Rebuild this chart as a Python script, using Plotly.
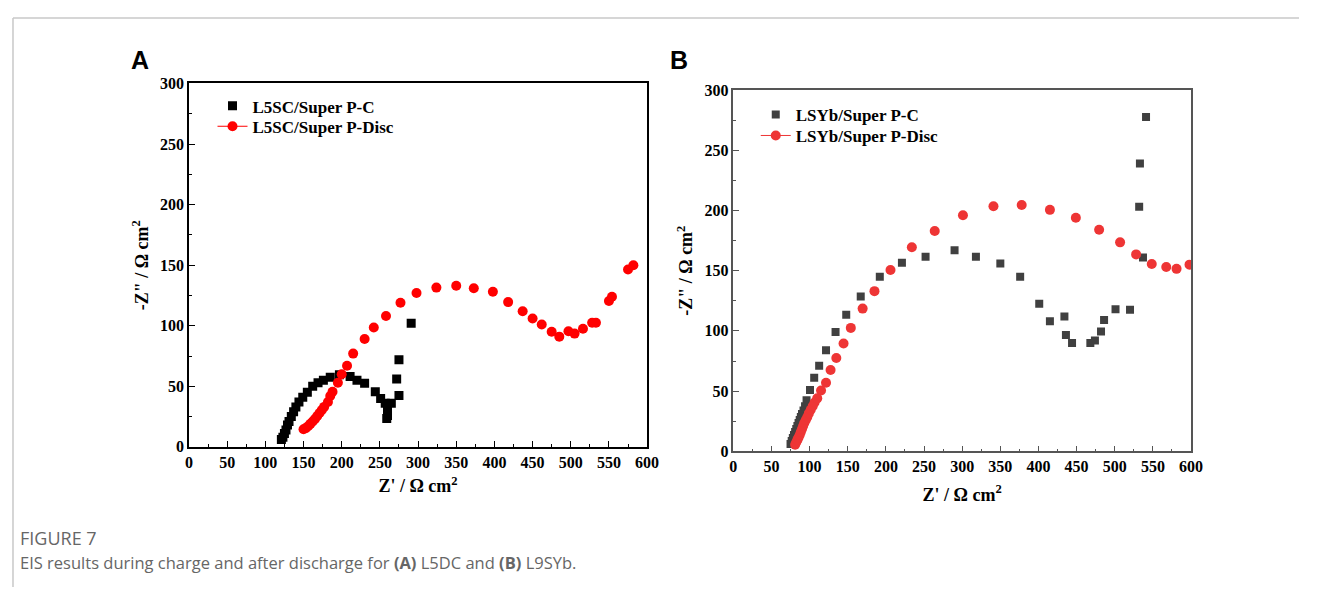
import plotly.graph_objects as go

# ---------------- data ----------------
# Panel A: L5SC / Super P
a_charge_x = [121, 123, 125, 127, 129, 131, 134, 137, 140, 144, 149, 155, 162, 169, 176, 185, 197,
              211, 220, 230, 244, 251, 257, 260, 260, 259, 265, 275, 272, 275, 291]
a_charge_y = [6, 8, 11, 14, 18, 21, 25, 29, 33, 37, 41, 45, 50, 53, 55, 57.5, 59.5,
              58, 55, 52.5, 45.5, 40, 36, 30, 26, 23.5, 36, 42.5, 56, 72, 102]
a_disc_x = [150, 153, 156, 159, 162, 165, 168, 171, 174, 177, 182, 185, 188, 195, 200, 207, 215,
            230, 242, 258, 277, 298, 324, 350, 373, 398, 418, 437, 450, 462, 475, 485, 497, 505,
            516, 528, 533, 550, 554, 575, 582]
a_disc_y = [14.5, 15.5, 17, 19, 21, 23, 25.5, 28, 30.5, 33, 37, 42, 45.5, 53, 60, 67, 77,
            89, 98.5, 108, 119, 127, 131.5, 133, 131, 128, 119.5, 112, 106, 101, 95, 91, 95.5, 93.5,
            97.5, 102.5, 102.5, 120.5, 124, 146.5, 150]

# Panel B: LSYb / Super P
b_charge_x = [75, 76.5, 78, 79.5, 81, 82.5, 84, 85.5, 87, 88.5, 90, 92, 94, 96, 100.5, 106, 112.5,
              121.5, 134, 148, 167, 192, 221, 252, 290, 318, 350, 376, 401, 415, 434, 436, 444,
              468, 474, 482, 486, 501, 520, 537, 532, 533, 541]
b_charge_y = [6, 8.5, 11, 13.5, 16, 18.5, 21, 23.5, 26, 28.5, 31, 34, 37.5, 42.5, 51, 61, 71,
              84, 99, 113.5, 128.5, 145, 156.5, 161.5, 167, 161.5, 156, 145, 122.5, 108, 112, 96.5, 90,
              90, 92, 99.5, 109, 118, 117.5, 161, 203, 239, 277.5]
b_disc_x = [81, 82.5, 84, 85.5, 87, 88.5, 90, 91.5, 93, 95, 97, 99, 101.5, 104, 106.5, 110, 115,
            121.5, 127.5, 135, 144.5, 154, 169.5, 185, 206, 234, 264, 301, 341, 378, 415, 449,
            479.5, 507, 528, 548.5, 567.5, 581, 598]
b_disc_y = [5.5, 7.5, 9.5, 11.5, 13.5, 16, 18.5, 21, 23.5, 26, 28.5, 31.5, 34.5, 37.5, 40.5, 44, 50.5,
            57, 67.5, 77.5, 89.5, 102.5, 118.5, 133, 150.5, 169.5, 183, 196, 203.5, 204.5, 200.5, 194,
            184, 173.5, 163.5, 155.5, 153, 151.5, 155]

names_a = ["L5SC/Super P-C", "L5SC/Super P-Disc"]
names_b = ["LSYb/Super P-C", "LSYb/Super P-Disc"]
x_ticks = list(range(0, 601, 50))
y_ticks = list(range(0, 301, 50))

# page is 1319x604; the default body margin of 8px surrounds the figure
OFF = 8
W, H = 1319 - 2 * OFF, 604 - 2 * OFF
SERIF = "Liberation Serif, Times New Roman, serif"


def px_x(p):
    return (p - OFF) / W


def px_y(p):
    return 1 - (p - OFF) / H


RED_A = "#ff0000"
RED_B = "#ee3535"
legfont = dict(family=SERIF, size=17, color="black", weight="bold")

fig = go.Figure()

# Panel A traces
fig.add_trace(go.Scatter(x=a_charge_x, y=a_charge_y, mode="markers", name=names_a[0],
                         marker=dict(symbol="square", size=9, color="black"),
                         xaxis="x", yaxis="y", legend="legend"))
fig.add_trace(go.Scatter(x=a_disc_x, y=a_disc_y, mode="markers", name=names_a[1], showlegend=False,
                         marker=dict(symbol="circle", size=10, color=RED_A),
                         xaxis="x", yaxis="y"))
fig.add_trace(go.Scatter(x=[None], y=[None], mode="lines+markers", name=names_a[1],
                         marker=dict(symbol="circle", size=10, color=RED_A),
                         line=dict(color=RED_A, width=1),
                         xaxis="x", yaxis="y", legend="legend2"))

# Panel B traces
fig.add_trace(go.Scatter(x=b_charge_x, y=b_charge_y, mode="markers", name=names_b[0],
                         marker=dict(symbol="square", size=8, color="#404040"),
                         xaxis="x2", yaxis="y2", legend="legend3"))
fig.add_trace(go.Scatter(x=b_disc_x, y=b_disc_y, mode="markers", name=names_b[1], showlegend=False,
                         marker=dict(symbol="circle", size=10, color=RED_B),
                         xaxis="x2", yaxis="y2"))
fig.add_trace(go.Scatter(x=[None], y=[None], mode="lines+markers", name=names_b[1],
                         marker=dict(symbol="circle", size=10, color=RED_B),
                         line=dict(color=RED_B, width=1),
                         xaxis="x2", yaxis="y2", legend="legend4"))

tickfont = dict(family=SERIF, size=16, color="black", weight="bold")
titlefont = dict(family=SERIF, size=18, color="black", weight="bold")


def axis(domain, rng, ticks, color, anchor, title, standoff):
    return dict(domain=domain, range=rng, tickmode="array", tickvals=ticks,
                ticktext=[str(t) for t in ticks],
                showline=True, linecolor=color, linewidth=1.5, mirror=True,
                ticks="inside", ticklen=6, tickwidth=1.2, tickcolor=color,
                minor=dict(ticks="inside", ticklen=3, tickwidth=1.2, tickcolor=color, dtick=25),
                showgrid=False, zeroline=False, tickfont=tickfont, anchor=anchor,
                title=dict(text=title, font=titlefont, standoff=standoff))


def leg(x, yc):
    # yc: page-pixel centre of the entry row
    return dict(x=px_x(x), y=px_y(yc), xanchor="left", yanchor="middle",
                bgcolor="rgba(0,0,0,0)", font=legfont, itemsizing="trace")


xt = "Z' / Ω cm<sup>2</sup>"
yt = '-Z" / Ω cm<sup>2</sup>'

fig.update_layout(
    width=W, height=H, margin=dict(l=0, r=0, t=0, b=0),
    paper_bgcolor="white", plot_bgcolor="white",
    xaxis=axis([px_x(187.2), px_x(651)], [0, 600], x_ticks, "black", "y", xt, 10),
    yaxis=axis([px_y(451.7), px_y(77.5)], [0, 300], y_ticks, "black", "x", yt, 7),
    xaxis2=axis([px_x(738.3), px_x(1201.7)], [0, 600], x_ticks, "#555555", "y2", xt, 14),
    yaxis2=axis([px_y(456.3), px_y(84.2)], [0, 300], y_ticks, "#555555", "x2", yt, 7),
    legend=leg(211, 101),
    legend2=leg(211, 122),
    legend3=leg(761, 110),
    legend4=leg(761, 131.5),
    shapes=[
        dict(type="line", xref="paper", yref="paper", x0=px_x(9), x1=1, y0=px_y(10), y1=px_y(10),
             line=dict(color="#c8c8c8", width=1.5)),
        dict(type="line", xref="paper", yref="paper", x0=px_x(9), x1=px_x(9), y0=0, y1=px_y(10),
             line=dict(color="#c8c8c8", width=1.5)),
    ],
    annotations=[
        dict(text="<b>A</b>", x=px_x(137.5), y=px_y(53), xref="paper", yref="paper",
             showarrow=False, xanchor="center", yanchor="middle",
             font=dict(family="Liberation Sans, Arial, sans-serif", size=25, color="black")),
        dict(text="<b>B</b>", x=px_x(683.5), y=px_y(53), xref="paper", yref="paper",
             showarrow=False, xanchor="center", yanchor="middle",
             font=dict(family="Liberation Sans, Arial, sans-serif", size=25, color="black")),
        dict(text="FIGURE 7", x=px_x(14), y=px_y(546), xref="paper", yref="paper",
             showarrow=False, xanchor="left", yanchor="middle",
             font=dict(family="Open Sans, sans-serif", size=18, color="#666666")),
        dict(text="EIS results during charge and after discharge for <b>(A)</b> L5DC and <b>(B)</b> L9SYb.",
             x=px_x(14), y=px_y(571), xref="paper", yref="paper",
             showarrow=False, xanchor="left", yanchor="middle",
             font=dict(family="Open Sans, sans-serif", size=16.5, color="#666666")),
    ],
)

fig.write_html("out.html", config={"displayModeBar": False})
